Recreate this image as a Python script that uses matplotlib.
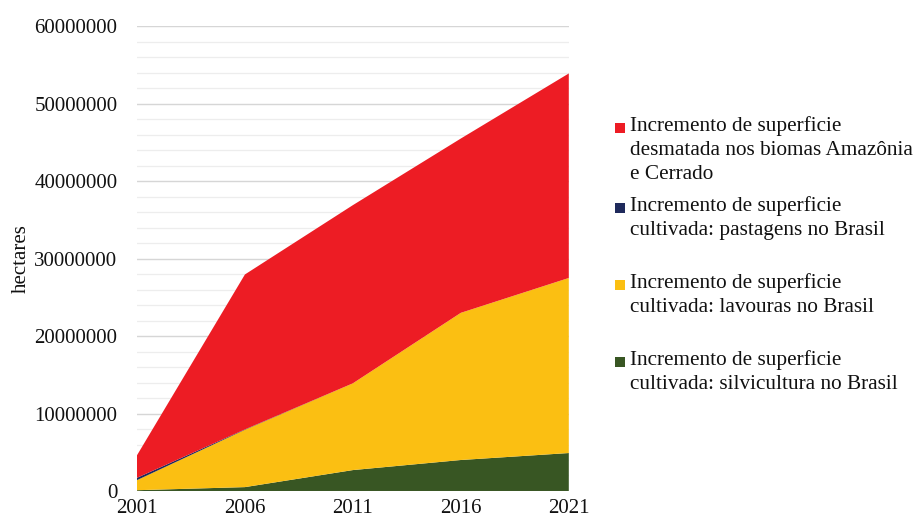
import numpy as np
import matplotlib.pyplot as plt
from matplotlib.patches import Rectangle
from matplotlib.ticker import MultipleLocator

plt.rcParams['font.family'] = ['Liberation Serif', 'DejaVu Serif']

# Increments of area (hectares), stacked bottom to top
anos = [2001, 2006, 2011, 2016, 2021]
silvicultura = [100000, 500000, 2700000, 4000000, 4900000]
lavouras = [1300000, 7400000, 11200000, 19000000, 22600000]
pastagens = [300000, 50000, 0, 0, 0]
desmatada = [2900000, 20000000, 23000000, 22500000, 26400000]

rotulos = [
    'Incremento de superficie\ndesmatada nos biomas Amazônia\ne Cerrado',
    'Incremento de superficie\ncultivada: pastagens no Brasil',
    'Incremento de superficie\ncultivada: lavouras no Brasil',
    'Incremento de superficie\ncultivada: silvicultura no Brasil',
]
cores = ['#ED1C24', '#1F2A5C', '#FBBF12', '#385623']

fig = plt.figure(figsize=(9.13, 5.24), dpi=100)
ax = fig.add_axes([0.150, 0.063, 0.473, 0.887])

ax.stackplot(anos, silvicultura, lavouras, pastagens, desmatada,
             colors=[cores[3], cores[2], cores[1], cores[0]], linewidth=0, zorder=3)

ax.set_xlim(2001, 2021)
ax.set_ylim(0, 60000000)
ax.set_xticks(anos)
ax.yaxis.set_major_locator(MultipleLocator(10000000))
ax.yaxis.set_minor_locator(MultipleLocator(2000000))
ax.yaxis.set_major_formatter(plt.FuncFormatter(lambda v, p: '%d' % v))
ax.grid(axis='y', which='major', color='#D6D6D6', linewidth=1.0, zorder=0)
ax.grid(axis='y', which='minor', color='#EDEDED', linewidth=0.9, zorder=0)
ax.set_axisbelow(True)
for s in ax.spines.values():
    s.set_visible(False)
ax.tick_params(axis='both', which='both', length=0, labelsize=15, colors='#111111')
ax.tick_params(axis='y', pad=14)
ax.tick_params(axis='x', pad=6)
ax.set_ylabel('hectares', fontsize=15, color='#111111')
ax.yaxis.set_label_coords(-0.245, 0.5)

# Legend drawn by hand so each entry sits in its own slot
tops = [128, 208, 285, 362]
W, H = 913.0, 524.0
for lab, cor, yp in zip(rotulos, cores, tops):
    fig.patches.append(Rectangle((615 / W, 1 - (yp + 5) / H), 10 / W, 10 / H,
                                 transform=fig.transFigure, facecolor=cor,
                                 edgecolor='none'))
    fig.text(630 / W, 1 - (yp - 12) / H, lab, fontsize=15.3, va='top', ha='left',
             linespacing=1.36, color='#111111')

fig.savefig('out.png', dpi=100)
